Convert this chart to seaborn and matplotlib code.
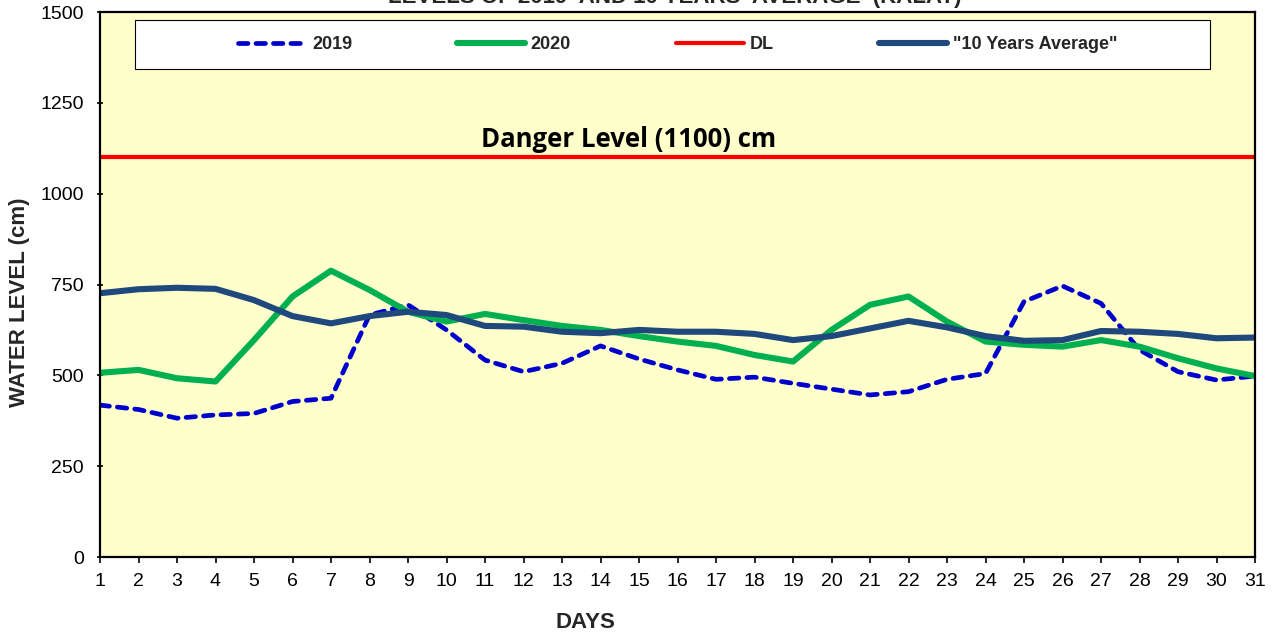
import matplotlib
matplotlib.use("Agg")
import matplotlib.pyplot as plt
import seaborn as sns
import pandas as pd
from matplotlib.patches import Rectangle

# ── data ────────────────────────────────────────────────────
DAYS = list(range(1, 32))
LEVEL_2019 = [418, 406, 382, 391, 395, 428, 437, 666, 694, 625, 542, 510, 533, 581, 545,
              515, 489, 495, 478, 462, 446, 455, 489, 505, 703, 746, 698, 570, 510, 487, 498]
LEVEL_2020 = [507, 515, 492, 483, 597, 717, 788, 735, 675, 648, 669, 652, 636, 625, 608,
              593, 581, 556, 538, 625, 694, 717, 648, 593, 584, 579, 597, 579, 547, 519, 498]
AVG_10Y = [726, 737, 741, 738, 707, 663, 643, 663, 675, 666, 636, 634, 620, 616, 625,
           620, 620, 614, 597, 608, 629, 650, 632, 608, 595, 597, 622, 620, 614, 602, 604]
DANGER_LEVEL = 1100
Y_TICKS = [0, 250, 500, 750, 1000, 1250, 1500]

TITLE = "LEVELS OF 2019  AND 10 YEARS  AVERAGE  (KALAT)"

df = pd.DataFrame({"day": DAYS, "y2019": LEVEL_2019, "y2020": LEVEL_2020, "avg": AVG_10Y})

sns.set_style("ticks")
plt.rcParams["font.family"] = ["Liberation Sans", "DejaVu Sans"]

fig = plt.figure(figsize=(12.78, 6.38), dpi=100)
fig.patch.set_facecolor("white")
ax = fig.add_axes([100 / 1278, 81 / 638, 1155 / 1278, 545 / 638])
ax.set_facecolor("#FFFFCC")

sns.lineplot(data=df, x="day", y="y2019", ax=ax, color="#0000CC", lw=3.4,
             linestyle=(0, (2.0, 1.7)), dash_capstyle="round", label="2019")
sns.lineplot(data=df, x="day", y="y2020", ax=ax, color="#00B050", lw=4.4,
             solid_capstyle="round", label="2020")
ax.axhline(DANGER_LEVEL, color="#FF0000", lw=3.0, label="DL")
sns.lineplot(data=df, x="day", y="avg", ax=ax, color="#1F497D", lw=4.4,
             solid_capstyle="round", label='"10 Years Average"')

ax.text(14.72, 1128, "Danger Level (1100) cm", family=["Open Sans", "DejaVu Sans"],
        fontweight="bold", fontsize=18.5, ha="center", va="baseline", color="black")

ax.set_xlim(1, 31)
ax.set_ylim(0, 1500)
ax.set_xticks(DAYS)
ax.set_yticks(Y_TICKS)
ax.tick_params(axis="x", direction="out", length=4.5, width=1.2, pad=7, labelsize=14, colors="black")
ax.tick_params(axis="y", direction="inout", length=5, width=1.2, pad=9, labelsize=14, colors="black")
for s in ax.spines.values():
    s.set_visible(True)
    s.set_color("black")
    s.set_linewidth(1.6)

ax.set_xlabel("DAYS", fontsize=16, fontweight="bold")
ax.xaxis.set_label_coords(0.42, -0.1)
ax.set_ylabel("WATER LEVEL (cm)", fontsize=16, fontweight="bold")
ax.yaxis.set_label_coords(-0.061, 0.468)

# legend box (white, square corners) with the entries centred inside
ax.add_patch(Rectangle((35 / 1155, 488 / 545), 1075 / 1155, 49 / 545, transform=ax.transAxes,
                       facecolor="white", edgecolor="black", lw=0.8, zorder=5))
leg = ax.legend(loc="center", bbox_to_anchor=(0.5, 0.940), ncol=4, frameon=False,
                prop={"weight": "bold", "size": 13}, handlelength=3.8, handletextpad=0.3,
                columnspacing=5.8)
leg.set_zorder(6)

fig.text(675 / 1278, 1 - 3 / 638, TITLE, ha="center", va="baseline",
         fontsize=16, fontweight="bold")

fig.savefig("out.png", dpi=100, facecolor="white")
